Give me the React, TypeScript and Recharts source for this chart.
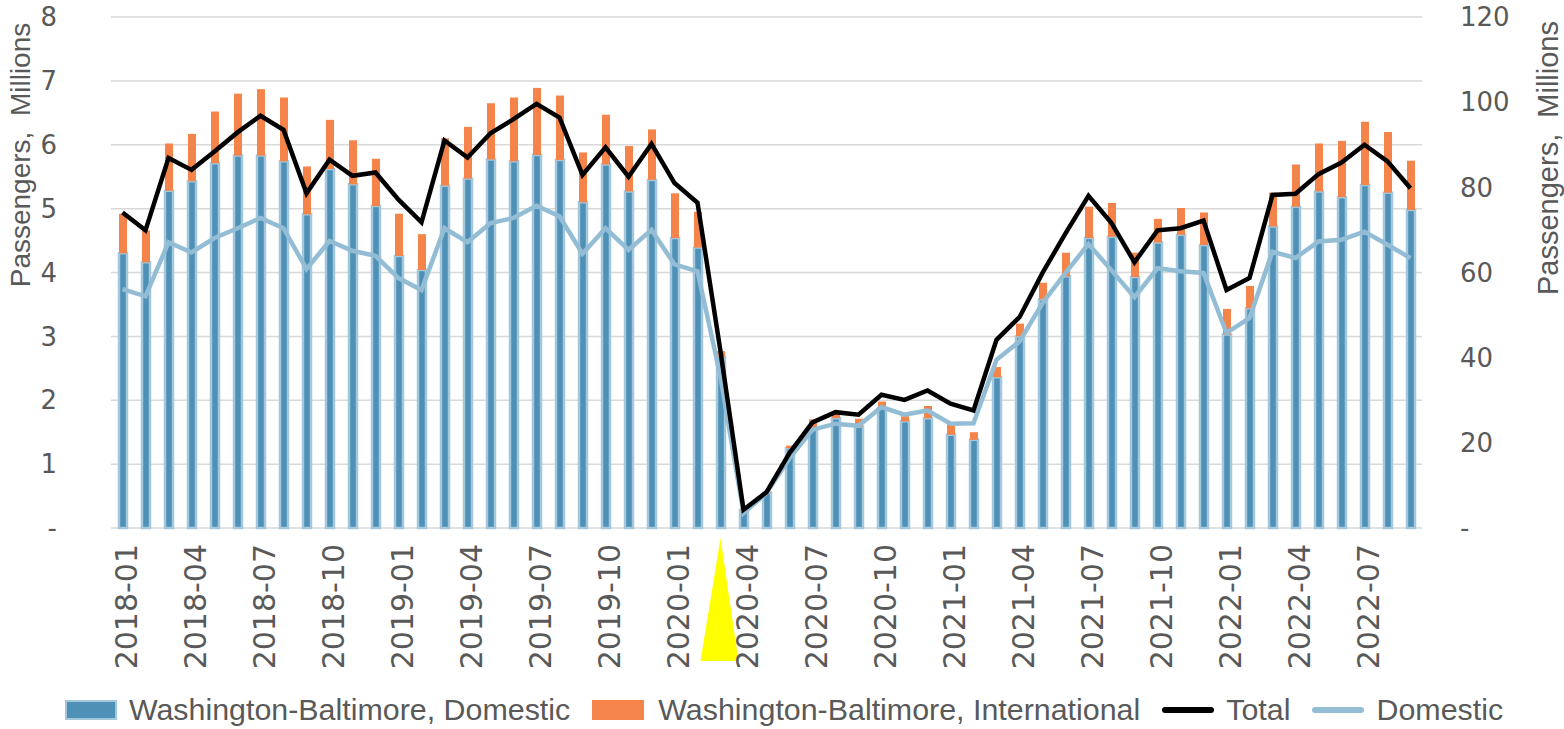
import React from 'react';
import { ComposedChart, Bar, Line, XAxis, YAxis, CartesianGrid, ReferenceDot } from 'recharts';

const months = [
  '2018-01', '2018-02', '2018-03', '2018-04', '2018-05', '2018-06', '2018-07', '2018-08', '2018-09', '2018-10', '2018-11', '2018-12',
  '2019-01', '2019-02', '2019-03', '2019-04', '2019-05', '2019-06', '2019-07', '2019-08', '2019-09', '2019-10', '2019-11', '2019-12',
  '2020-01', '2020-02', '2020-03', '2020-04', '2020-05', '2020-06', '2020-07', '2020-08', '2020-09', '2020-10', '2020-11', '2020-12',
  '2021-01', '2021-02', '2021-03', '2021-04', '2021-05', '2021-06', '2021-07', '2021-08', '2021-09', '2021-10', '2021-11', '2021-12',
  '2022-01', '2022-02', '2022-03', '2022-04', '2022-05', '2022-06', '2022-07', '2022-08', '2022-09',
];

// monthly passengers, millions (left axis)
const domesticBars = [
  4.30, 4.16, 5.28, 5.43, 5.71, 5.83, 5.83, 5.74, 4.91, 5.62, 5.38, 5.04,
  4.26, 4.04, 5.36, 5.47, 5.77, 5.74, 5.84, 5.76, 5.10, 5.69, 5.27, 5.45,
  4.54, 4.39, 2.68, 0.28, 0.55, 1.25, 1.54, 1.72, 1.59, 1.88, 1.67, 1.72,
  1.46, 1.38, 2.36, 3.00, 3.58, 3.94, 4.54, 4.56, 3.93, 4.47, 4.59, 4.43,
  3.03, 3.44, 4.72, 5.03, 5.27, 5.18, 5.37, 5.25, 4.98,
];
const internationalBars = [
  0.62, 0.50, 0.74, 0.74, 0.81, 0.97, 1.04, 1.00, 0.75, 0.77, 0.69, 0.74,
  0.66, 0.56, 0.74, 0.81, 0.88, 1.00, 1.05, 1.01, 0.78, 0.78, 0.71, 0.79,
  0.70, 0.56, 0.09, 0.02, 0.01, 0.04, 0.16, 0.11, 0.12, 0.10, 0.08, 0.19,
  0.16, 0.12, 0.16, 0.20, 0.26, 0.37, 0.49, 0.53, 0.38, 0.37, 0.42, 0.51,
  0.40, 0.35, 0.53, 0.66, 0.75, 0.88, 0.99, 0.95, 0.77,
];

// 12-month totals, millions (right axis)
const totalLine = [
  74.1, 69.9, 86.9, 84.1, 88.4, 92.9, 96.8, 93.5, 78.6, 86.5, 82.7, 83.5,
  77.1, 71.8, 91.0, 87.0, 92.7, 96.0, 99.6, 96.4, 82.9, 89.4, 82.5, 90.2,
  81.0, 76.4, 41.5, 4.3, 8.4, 17.6, 24.8, 27.2, 26.6, 31.3, 30.1, 32.3,
  29.2, 27.6, 44.2, 49.5, 59.9, 69.2, 78.0, 71.6, 62.4, 69.9, 70.4, 72.2,
  55.9, 58.7, 78.2, 78.5, 83.1, 85.8, 90.0, 86.1, 79.8,
];
const domesticLine = [
  56.1, 54.4, 67.1, 64.7, 68.1, 70.4, 72.8, 70.4, 60.8, 67.4, 65.1, 63.9,
  58.7, 55.9, 70.4, 67.1, 71.6, 72.8, 75.7, 73.2, 64.4, 70.4, 65.3, 70.0,
  61.9, 60.3, 35.5, 3.5, 8.2, 16.4, 23.1, 24.5, 24.0, 28.4, 26.6, 27.6,
  24.5, 24.6, 39.5, 43.8, 52.8, 59.9, 66.7, 60.5, 54.2, 61.0, 60.3, 59.9,
  45.8, 49.3, 64.9, 63.4, 67.3, 67.7, 69.6, 66.5, 63.4,
];

const leftTicks = [0, 1, 2, 3, 4, 5, 6, 7, 8];
const rightTicks = [0, 20, 40, 60, 80, 100, 120];
const markerMonth = '2020-03';

const data = months.map((month, i) => ({
  month,
  domestic: domesticBars[i],
  international: internationalBars[i],
  total: totalLine[i],
  domesticTotal: domesticLine[i],
}));

const GREY = '#595959';
const SANS = '"Liberation Sans", Arial, sans-serif';
const TICK_FONT = '"DejaVu Sans", sans-serif';

const dash = (v: number) => (v === 0 ? '-' : String(v));

function MonthTick({ x, y, payload }: any) {
  const tx = x + 4;
  const ty = y + 16;
  return (
    <text
      x={tx}
      y={ty}
      transform={`rotate(-90, ${tx}, ${ty})`}
      textAnchor="end"
      dominantBaseline="central"
      fontFamily={TICK_FONT}
      fontSize={30}
      fill={GREY}
    >
      {payload.value}
    </text>
  );
}

function AxisTitle({ cx, cy, size, text }: { cx: number; cy: number; size: number; text: string }) {
  return (
    <text
      x={cx}
      y={cy}
      transform={`rotate(-90, ${cx}, ${cy})`}
      textAnchor="middle"
      dominantBaseline="central"
      fontFamily={SANS}
      fontSize={size}
      fill={GREY}
      style={{ whiteSpace: 'pre' }}
    >
      {text}
    </text>
  );
}

function Triangle({ cx, cy }: any) {
  return (
    <polygon
      points={`${cx},${cy + 10} ${cx - 20},${cy + 133} ${cx + 18},${cy + 133}`}
      fill="#ffff00"
    />
  );
}

function LegendRow() {
  const item = { display: 'flex', alignItems: 'center', marginRight: 22 } as const;
  const label = { fontFamily: SANS, fontSize: 30.4, color: GREY, whiteSpace: 'pre' } as const;
  return (
    <div style={{ position: 'absolute', left: 0, top: 692, width: 1564, display: 'flex', justifyContent: 'center', paddingLeft: 26, boxSizing: 'border-box' }}>
      <div style={item}>
        <span style={{ width: 52, height: 20, background: '#4f91b6', border: '2px solid #a3c7dc', boxSizing: 'border-box', marginRight: 12 }} />
        <span style={label}>Washington-Baltimore, Domestic</span>
      </div>
      <div style={item}>
        <span style={{ width: 52, height: 20, background: '#f4844a', marginRight: 14 }} />
        <span style={label}>Washington-Baltimore, International</span>
      </div>
      <div style={item}>
        <span style={{ width: 52, height: 6, borderRadius: 3, background: '#000', marginRight: 12 }} />
        <span style={label}>Total</span>
      </div>
      <div style={item}>
        <span style={{ width: 52, height: 6, borderRadius: 3, background: '#93bdd4', marginRight: 12 }} />
        <span style={label}>Domestic</span>
      </div>
    </div>
  );
}

export default function App() {
  return (
    <div style={{ position: 'relative', width: 1564, height: 729, background: '#fff' }}>
      <style>{'body{margin:0}'}</style>
      <ComposedChart
        width={1564}
        height={729}
        data={data}
        barSize={8}
        margin={{ top: 17, right: 0, bottom: 56, left: 0 }}
      >
        <CartesianGrid yAxisId="left" vertical={false} stroke="#d9d9d9" strokeWidth={1.5} />
        <XAxis
          dataKey="month"
          interval={2}
          height={145}
          tickSize={0}
          tickMargin={0}
          axisLine={false}
          tickLine={false}
          tick={<MonthTick />}
        />
        <YAxis
          yAxisId="left"
          width={111}
          domain={[0, 8]}
          ticks={leftTicks}
          tickFormatter={dash}
          axisLine={false}
          tickLine={false}
          tickSize={0}
          tickMargin={54}
          tick={{ fill: GREY, fontSize: 26, fontFamily: TICK_FONT }}
          label={(props: any) => (
            <AxisTitle cx={props.viewBox.x + 20} cy={155} size={28} text={'Passengers,  Millions'} />
          )}
        />
        <YAxis
          yAxisId="right"
          orientation="right"
          width={142}
          domain={[0, 120]}
          ticks={rightTicks}
          tickFormatter={dash}
          axisLine={false}
          tickLine={false}
          tickSize={0}
          tickMargin={38}
          tick={{ fill: GREY, fontSize: 26, fontFamily: TICK_FONT, textAnchor: 'start' }}
          label={(props: any) => (
            <AxisTitle cx={props.viewBox.x + 126} cy={158} size={29} text={'Passengers,  Millions'} />
          )}
        />
        <Bar yAxisId="left" dataKey="domestic" stackId="wb" fill="#4f91b6" stroke="#a3c7dc" strokeWidth={2.5} isAnimationActive={false} />
        <Bar yAxisId="left" dataKey="international" stackId="wb" fill="#f4844a" isAnimationActive={false} />
        <Line yAxisId="right" dataKey="domesticTotal" stroke="#93bdd4" strokeWidth={4.5} dot={false} isAnimationActive={false} />
        <Line yAxisId="right" dataKey="total" stroke="#000" strokeWidth={4.5} dot={false} isAnimationActive={false} />
        <ReferenceDot yAxisId="left" x={markerMonth} y={0} ifOverflow="visible" shape={<Triangle />} />
      </ComposedChart>
      <LegendRow />
    </div>
  );
}
